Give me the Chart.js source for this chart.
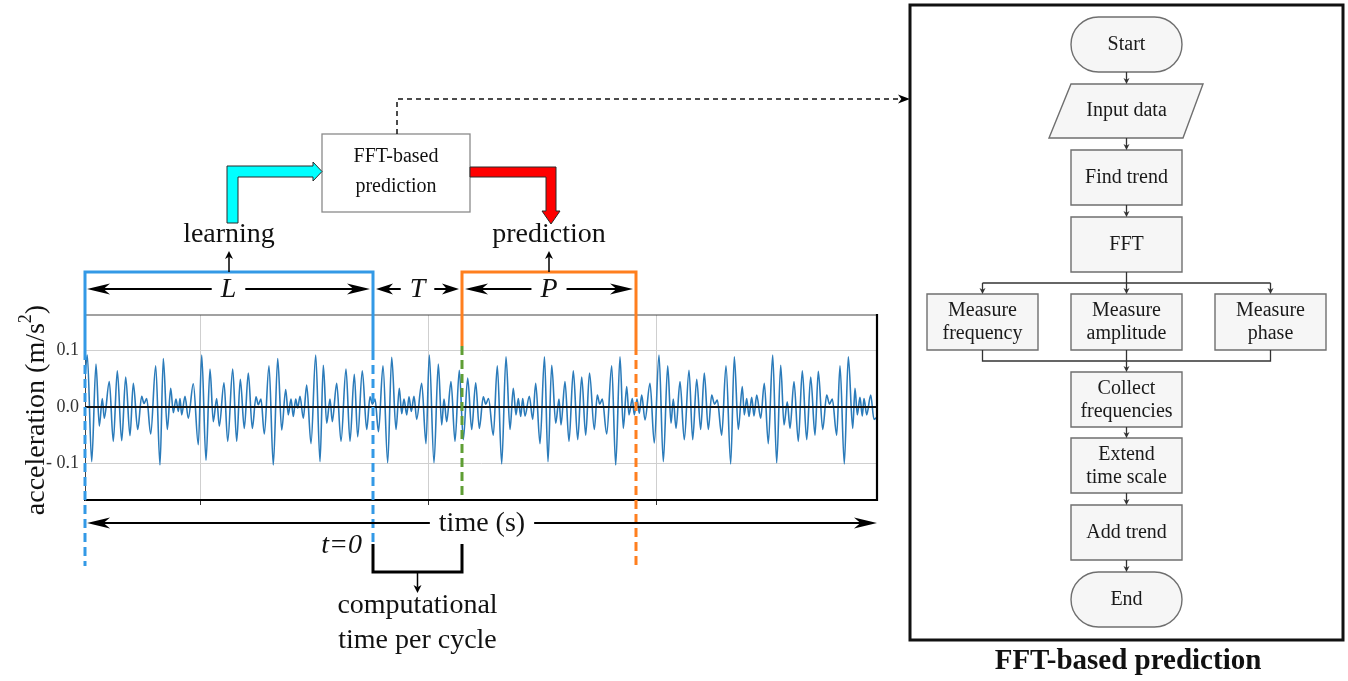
<!DOCTYPE html>
<html>
<head>
<meta charset="utf-8">
<script src="https://cdn.jsdelivr.net/npm/chart.js@4.4.1/dist/chart.umd.min.js"></script>
<style>
html,body{margin:0;padding:0;background:#fff;}
#wrap{width:1348px;height:681px;position:relative;}
</style>
</head>
<body>
<div id="wrap"><canvas id="fig"></canvas></div>
<script>
window.addEventListener("load", () => {

/* ===== DATA ===== */

// time in s, acceleration in m/s^2 (peaks / troughs of the recorded signal)
const time = [
0.000,0.023,0.067,0.110,0.143,0.173,0.193,0.243,0.283,0.323,0.367,0.407,0.450,0.483,0.527,0.567,0.590,0.617,0.657,0.707,0.750,0.783,0.823,0.857,0.883,0.910,0.933,0.950,0.967,1.000,1.033,1.083,1.133,
1.167,1.210,1.250,1.283,1.317,1.343,1.390,1.427,1.477,1.517,1.553,1.593,1.633,1.673,1.710,1.733,1.760,1.793,1.840,1.883,1.927,1.967,2.007,2.033,2.060,2.083,2.107,2.127,2.150,2.183,2.217,2.260,
2.307,2.350,2.383,2.417,2.450,2.473,2.517,2.560,2.610,2.650,2.693,2.727,2.773,2.817,2.850,2.875,2.900,2.935,2.980,3.027,3.067,3.110,3.143,3.167,3.190,3.217,3.240,3.263,3.290,3.317,3.367,3.410,
3.443,3.490,3.533,3.567,3.590,3.617,3.660,3.700,3.743,3.783,3.827,3.867,3.907,3.943,3.983,4.008,4.035,4.083,4.123,4.167,4.210,4.250,4.283,4.310,4.333,4.357,4.377,4.400,4.443,4.477,4.507,4.550,
4.595,4.630,4.667,4.707,4.740,4.760,4.800,4.840,4.883,4.927,4.967,5.007,5.045,5.093,5.123,5.148,5.173,5.217,5.267,5.307,5.350,5.383,5.417,5.440,5.473,5.493,5.520,5.543,5.567,5.600,5.650,5.693,
5.740,5.783,5.827,5.860,5.883,5.910,5.950,5.993,6.040,6.077,6.117,6.157,6.193,6.233,6.267,6.295,6.323,6.367,6.410,6.457,6.493,6.533,6.573,6.593,6.617,6.640,6.667,6.690,6.717,6.757,6.793,6.833,
6.877,6.917,6.957,6.990,7.023,7.050,7.090,7.133,7.173,7.217,7.257,7.300,7.333,7.377,7.417,7.445,7.473,7.517,7.550,7.593,7.633,7.677,7.700,7.723,7.750,7.773,7.790,7.817,7.857,7.890,7.920
];
const accel = [
0.054,0.092,-0.097,0.076,-0.034,0.015,-0.020,0.045,-0.061,0.064,-0.060,0.053,-0.051,0.042,-0.040,0.019,0.006,0.015,-0.048,0.073,-0.103,0.086,-0.040,0.033,-0.010,0.014,-0.008,0.015,-0.014,0.019,-0.020,0.041,-0.067,
0.092,-0.095,0.067,-0.026,0.015,-0.034,0.043,-0.061,0.067,-0.061,0.049,-0.038,0.060,-0.038,0.018,0.004,0.014,-0.048,0.073,-0.103,0.086,-0.041,0.031,-0.014,0.014,-0.017,0.014,-0.002,0.019,-0.020,0.039,-0.065,
0.092,-0.097,0.074,-0.029,0.014,-0.026,0.042,-0.061,0.067,-0.061,0.058,-0.053,0.064,-0.040,0.018,0.005,0.014,-0.044,0.073,-0.099,0.088,-0.040,0.033,-0.012,0.014,-0.014,0.018,-0.008,0.019,-0.022,0.042,-0.065,
0.092,-0.099,0.076,-0.032,0.014,-0.026,0.045,-0.061,0.065,-0.058,0.051,-0.040,0.043,-0.038,0.018,0.005,0.015,-0.050,0.073,-0.101,0.089,-0.040,0.033,-0.014,0.015,-0.017,0.015,-0.016,0.019,-0.022,0.042,-0.065,
0.089,-0.097,0.074,-0.029,0.014,-0.032,0.045,-0.061,0.064,-0.058,0.053,-0.050,0.060,-0.040,0.021,0.005,0.014,-0.048,0.073,-0.103,0.089,-0.038,0.036,-0.014,0.015,-0.014,0.014,-0.011,0.021,-0.023,0.042,-0.064,
0.092,-0.097,0.073,-0.029,0.014,-0.038,0.045,-0.058,0.065,-0.058,0.049,-0.040,0.060,-0.040,0.021,0.005,0.012,-0.050,0.073,-0.101,0.089,-0.040,0.036,-0.014,0.015,-0.017,0.017,-0.016,0.021,-0.020,0.042,-0.065,
0.092,-0.099,0.074,-0.032,0.009,-0.038,0.045,-0.061,0.064,-0.058,0.053,-0.050,0.063,-0.040,0.021,0.005,0.014,-0.050,0.073,-0.101,0.089,-0.038,0.033,-0.014,0.017,-0.016,0.015,-0.014,0.021,-0.022,-0.018
];

const gridTimes = [1.15, 3.43, 5.71];
const yTicks = [-0.1, 0, 0.1];
const yTickLabels = ["- 0.1", "0.0", "0.1"];

// learning window L, computation gap T, prediction window P (edges in s)
const windowEdges = [0, 2.88, 3.77, 5.51];
const windowNames = ["L", "T", "P"];

const flowSteps = ["Start","Input data","Find trend","FFT","Measure|frequency","Measure|amplitude","Measure|phase","Collect|frequencies","Extend|time scale","Add trend","End"];

/* ===== DRAW HELPERS ===== */

const SERIF = "'Liberation Serif','DejaVu Serif',serif";
const BLUE = "#3399e6", ORANGE = "#ff7f1e", GREEN = "#5f9e34";

function seg(ctx, pts, color, w, dash){
ctx.save();
ctx.strokeStyle = color; ctx.lineWidth = w;
ctx.setLineDash(dash || []);
ctx.beginPath();
ctx.moveTo(pts[0][0], pts[0][1]);
for(let i=1;i<pts.length;i++) ctx.lineTo(pts[i][0], pts[i][1]);
ctx.stroke();
ctx.restore();
}

function head(ctx, x, y, ang, len, half, color){
ctx.save();
ctx.fillStyle = color || "#000";
ctx.translate(x, y); ctx.rotate(ang);
ctx.beginPath();
ctx.moveTo(0, 0); ctx.lineTo(-len, -half); ctx.lineTo(-len*0.72, 0); ctx.lineTo(-len, half);
ctx.closePath(); ctx.fill();
ctx.restore();
}

function txt(ctx, s, x, y, font, align, color){
ctx.save();
ctx.font = font; ctx.fillStyle = color || "#111";
ctx.textAlign = align || "center"; ctx.textBaseline = "middle";
ctx.fillText(s, x, y);
ctx.restore();
}

// double arrow with a label in the middle
function span(ctx, x1, x2, yy, label, font, len, half){
const mid = (x1+x2)/2;
ctx.font = font;
const w = ctx.measureText(label).width/2 + 9;
seg(ctx, [[x1+len*0.7, yy],[mid-w, yy]], "#000", 2);
seg(ctx, [[mid+w, yy],[x2-len*0.7, yy]], "#000", 2);
head(ctx, x1, yy, Math.PI, len, half);
head(ctx, x2, yy, 0, len, half);
txt(ctx, label, mid, yy+1, font);
}

function box(ctx, x1, y1, x2, y2, lines, round){
ctx.save();
ctx.fillStyle = "#f6f6f6"; ctx.strokeStyle = "#6f6f6f"; ctx.lineWidth = 1.4;
ctx.beginPath();
if(round){ ctx.roundRect(x1, y1, x2-x1, y2-y1, (y2-y1)/2); }
else { ctx.rect(x1, y1, x2-x1, y2-y1); }
ctx.fill(); ctx.stroke();
ctx.restore();
const cx = (x1+x2)/2, cy = (y1+y2)/2;
const parts = lines.split("|");
if(parts.length === 1) txt(ctx, parts[0], cx, cy, "20px "+SERIF, "center", "#1a1a1a");
else { txt(ctx, parts[0], cx, cy-11, "20px "+SERIF, "center", "#1a1a1a"); txt(ctx, parts[1], cx, cy+12, "20px "+SERIF, "center", "#1a1a1a"); }
}

function down(ctx, x, y1, y2){
seg(ctx, [[x, y1],[x, y2-4]], "#333", 1.3);
head(ctx, x, y2, Math.PI/2, 6, 3, "#333");
}

/* ===== OVERLAY PLUGIN ===== */

const overlay = {
id: "overlay",
afterDatasetsDraw(chart){
const {ctx, chartArea:a, scales:{x, y}} = chart;
// zero line and frame
const y0 = y.getPixelForValue(0);
seg(ctx, [[a.left, y0],[a.right, y0]], "#111", 2);
seg(ctx, [[a.left, a.top],[a.right, a.top]], "#444", 1.2);
seg(ctx, [[a.right, a.top-1],[a.right, a.bottom+1]], "#000", 2.2);
},
afterDraw(chart){
const {ctx, chartArea:a, scales:{x}} = chart;
const ex = windowEdges.map(t => x.getPixelForValue(t));
const topY = 272;

/* y axis title */
ctx.save();
ctx.translate(35, 410); ctx.rotate(-Math.PI/2);
const f1 = "28px "+SERIF, f2 = "18px "+SERIF;
ctx.font = f1; const wa = ctx.measureText("acceleration (m/s").width, wc = ctx.measureText(")").width;
ctx.font = f2; const wb = ctx.measureText("2").width;
const sx = -(wa+wb+wc)/2;
ctx.fillStyle = "#111"; ctx.textBaseline = "alphabetic"; ctx.textAlign = "left";
ctx.font = f1; ctx.fillText("acceleration (m/s", sx, 9);
ctx.font = f2; ctx.fillText("2", sx+wa, -4);
ctx.font = f1; ctx.fillText(")", sx+wa+wb, 9);
ctx.restore();

/* learning bracket (blue) */
seg(ctx, [[ex[0], 351],[ex[0], topY],[ex[1], topY],[ex[1], 351]], BLUE, 3);
seg(ctx, [[ex[0], 351],[ex[0], 566]], BLUE, 3, [9,5]);
seg(ctx, [[ex[1], 351],[ex[1], 546]], BLUE, 3, [9,5]);

/* prediction bracket (orange) */
seg(ctx, [[ex[2], 346],[ex[2], topY],[ex[3], topY],[ex[3], 346]], ORANGE, 3);
seg(ctx, [[ex[2], 346],[ex[2], a.bottom]], GREEN, 3, [9,5]);
seg(ctx, [[ex[3], 346],[ex[3], 566]], ORANGE, 3, [9,5]);

/* L, T, P spans */
const it = "italic 28px "+SERIF;
span(ctx, ex[0]+2, ex[1]-3, 289, windowNames[0], it, 23, 5.5);
span(ctx, ex[1]+3, ex[2]-3, 289, windowNames[1], it, 17, 5.5);
span(ctx, ex[2]+3, ex[3]-3, 289, windowNames[2], it, 23, 5.5);

/* time axis arrow */
span(ctx, a.left+2, a.right, 523, "time (s)", "28px "+SERIF, 23, 5.5);

/* t=0 and computational time bracket */
txt(ctx, "t=0", ex[1]-11, 546, it, "right");
seg(ctx, [[ex[1], 544],[ex[1], 572],[ex[2], 572],[ex[2], 544]], "#000", 3);
const cx = (ex[1]+ex[2])/2;
seg(ctx, [[cx, 572],[cx, 587]], "#000", 1.5);
head(ctx, cx, 593, Math.PI/2, 8, 4);
txt(ctx, "computational", cx, 606, "28px "+SERIF);
txt(ctx, "time per cycle", cx, 641, "28px "+SERIF);

/* learning / prediction labels */
const lx = (ex[0]+ex[1])/2, px = (ex[2]+ex[3])/2;
txt(ctx, "learning", lx, 235, "28px "+SERIF);
txt(ctx, "prediction", px, 235, "28px "+SERIF);
seg(ctx, [[lx, topY],[lx, 257]], "#000", 1.5);
head(ctx, lx, 251, -Math.PI/2, 8, 4);
seg(ctx, [[px, topY],[px, 257]], "#000", 1.5);
head(ctx, px, 251, -Math.PI/2, 8, 4);

/* FFT-based prediction box */
ctx.save();
ctx.fillStyle = "#fff"; ctx.strokeStyle = "#8a8a8a"; ctx.lineWidth = 1.3;
ctx.fillRect(322, 134, 148, 78); ctx.strokeRect(322, 134, 148, 78);
ctx.restore();
txt(ctx, "FFT-based", 396, 157, "20px "+SERIF);
txt(ctx, "prediction", 396, 187, "20px "+SERIF);

/* cyan and red fat arrows */
ctx.save();
ctx.lineWidth = 1; ctx.strokeStyle = "#2a2a2a";
ctx.fillStyle = "#00ffff";
ctx.beginPath();
[[227,223],[227,166],[313,166],[313,162],[322,171.5],[313,181],[313,177],[238,177],[238,223]].forEach((p,i)=> i ? ctx.lineTo(p[0],p[1]) : ctx.moveTo(p[0],p[1]));
ctx.closePath(); ctx.fill(); ctx.stroke();
ctx.fillStyle = "#ff0000";
ctx.beginPath();
[[470,167],[556,167],[556,211],[560,211],[551,224],[542,211],[546,211],[546,177],[470,177]].forEach((p,i)=> i ? ctx.lineTo(p[0],p[1]) : ctx.moveTo(p[0],p[1]));
ctx.closePath(); ctx.fill(); ctx.stroke();
ctx.restore();

/* dashed link to flowchart */
seg(ctx, [[397, 134],[397, 99],[902, 99]], "#111", 1.5, [5,4]);
head(ctx, 910, 99, 0, 12, 4.5);

/* flowchart */
ctx.save();
ctx.strokeStyle = "#111"; ctx.lineWidth = 3;
ctx.strokeRect(910, 5, 433, 635);
ctx.restore();

const fc = 1126.5;
box(ctx, 1071, 17, 1182, 72, flowSteps[0], true);
ctx.save();
ctx.fillStyle = "#f6f6f6"; ctx.strokeStyle = "#6f6f6f"; ctx.lineWidth = 1.4;
ctx.beginPath(); ctx.moveTo(1071,84); ctx.lineTo(1203,84); ctx.lineTo(1183,138); ctx.lineTo(1049,138); ctx.closePath();
ctx.fill(); ctx.stroke(); ctx.restore();
txt(ctx, flowSteps[1], fc, 111, "20px "+SERIF, "center", "#1a1a1a");
box(ctx, 1071, 150, 1182, 205, flowSteps[2]);
box(ctx, 1071, 217, 1182, 272, flowSteps[3]);
box(ctx, 927, 294, 1038, 350, flowSteps[4]);
box(ctx, 1071, 294, 1182, 350, flowSteps[5]);
box(ctx, 1215, 294, 1326, 350, flowSteps[6]);
box(ctx, 1071, 372, 1182, 427, flowSteps[7]);
box(ctx, 1071, 438, 1182, 493, flowSteps[8]);
box(ctx, 1071, 505, 1182, 560, flowSteps[9]);
box(ctx, 1071, 572, 1182, 627, flowSteps[10], true);

down(ctx, fc, 72, 84);
down(ctx, fc, 138, 150);
down(ctx, fc, 205, 217);
seg(ctx, [[fc, 272],[fc, 283]], "#333", 1.3);
seg(ctx, [[982.5, 283],[1270.5, 283]], "#333", 1.3);
down(ctx, 982.5, 283, 294);
down(ctx, fc, 283, 294);
down(ctx, 1270.5, 283, 294);
seg(ctx, [[982.5, 350],[982.5, 361],[1270.5, 361],[1270.5, 350]], "#333", 1.3);
seg(ctx, [[fc, 350],[fc, 361]], "#333", 1.3);
down(ctx, fc, 361, 372);
down(ctx, fc, 427, 438);
down(ctx, fc, 493, 505);
down(ctx, fc, 560, 572);

txt(ctx, "FFT-based prediction", 1128, 662, "bold 29px "+SERIF);
}
};

/* ===== CHART ===== */

const points = time.map((t, i) => ({x: t, y: accel[i]}));

new Chart(document.getElementById("fig").getContext("2d"), {
type: "line",
data: {
datasets: [{
data: points,
borderColor: "#2b7bba",
borderWidth: 1.6,
pointRadius: 0,
cubicInterpolationMode: "monotone",
fill: false
}]
},
options: {
responsive: true,
maintainAspectRatio: false,
animation: false,
events: [],
layout: {padding: {left: 0, top: 315, right: 471, bottom: 171}},
plugins: {legend: {display: false}, tooltip: {enabled: false}},
scales: {
x: {
type: "linear", min: 0, max: 7.92,
afterBuildTicks: s => { s.ticks = gridTimes.map(v => ({value: v})); },
afterFit: s => { s.height = 10; },
ticks: {display: false},
grid: {color: "#cfcfcf", lineWidth: 1, drawTicks: true, tickLength: 5, tickColor: "#333"},
border: {color: "#000", width: 2}
},
y: {
min: -0.165, max: 0.163,
afterBuildTicks: s => { s.ticks = yTicks.map(v => ({value: v})); },
afterFit: s => { s.width = 85; },
ticks: {
callback: (v, i) => yTickLabels[i],
font: {family: "Liberation Serif", size: 18},
color: "#333",
padding: 6
},
grid: {color: c => c.tick && c.tick.value === 0 ? "rgba(0,0,0,0)" : "#cfcfcf", drawTicks: false},
border: {color: "#444", width: 1}
}
}
},
plugins: [overlay]
});

});
</script>
</body>
</html>
